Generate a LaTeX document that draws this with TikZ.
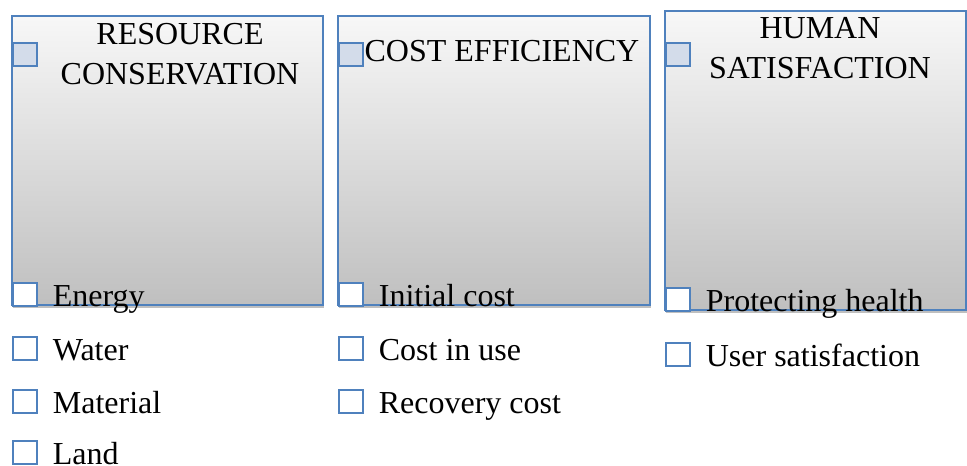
\documentclass[tikz,border=0pt]{standalone}
\usepackage{fontspec}
\setmainfont{Liberation Serif}
\usetikzlibrary{positioning,shadows}

\definecolor{wordblue}{RGB}{79,129,189}
\definecolor{tabfill}{RGB}{211,220,234}

\tikzset{
  panel/.style={draw=wordblue, line width=1.2pt, top color=white!97!black, bottom color=black!25,
    drop shadow={shadow xshift=0.6pt, shadow yshift=-2.2pt, opacity=0.25, fill=black}},
  headtab/.style={draw=wordblue, line width=1.2pt, fill=tabfill, inner sep=0pt,
    minimum width=18pt, minimum height=17.25pt, anchor=north west},
  checkbox/.style={draw=wordblue, line width=1.2pt, fill=white, inner sep=0pt,
    minimum width=18pt, minimum height=17.25pt, anchor=north west},
  heading/.style={font=\fontsize{24}{30}\selectfont, align=center, inner sep=0pt, anchor=north},
  item/.style={font=\fontsize{24}{30}\selectfont, inner sep=0pt}
}

\begin{document}
\begin{tikzpicture}[x=0.75pt,y=-0.75pt]
    \useasboundingbox (0,0) rectangle (967,466);

    % Panels
    \draw[panel] (12,16) rectangle (323,305);
    \draw[panel] (338,16) rectangle (650,305);
    \draw[panel] (665,11) rectangle (966,310);

    % Resource conservation
    \node[headtab] (rcTab) at (12,42) {};
    \node[heading] (rcHead) at (180,23) {RESOURCE\\CONSERVATION};
    \node[checkbox] (rcBoxA) at (12,282) {};
    \node[checkbox] (rcBoxB) at (12,336) {};
    \node[checkbox] (rcBoxC) at (12,389) {};
    \node[checkbox] (rcBoxD) at (12,440) {};
    \node[item, right=11.25pt of rcBoxA.south east, anchor=base west] (energy) {Energy};
    \node[item, right=11.25pt of rcBoxB.south east, anchor=base west] (water) {Water};
    \node[item, right=11.25pt of rcBoxC.south east, anchor=base west] (material) {Material};
    \node[item, right=11.25pt of rcBoxD.south east, anchor=base west] (land) {Land};

    % Cost efficiency
    \node[headtab] (ceTab) at (338,42) {};
    \node[heading] (ceHead) at (502,40) {COST EFFICIENCY};
    \node[checkbox] (ceBoxA) at (338,282) {};
    \node[checkbox] (ceBoxB) at (338,336) {};
    \node[checkbox] (ceBoxC) at (338,389) {};
    \node[item, right=11.25pt of ceBoxA.south east, anchor=base west] (initial) {Initial cost};
    \node[item, right=11.25pt of ceBoxB.south east, anchor=base west] (inuse) {Cost in use};
    \node[item, right=11.25pt of ceBoxC.south east, anchor=base west] (recovery) {Recovery cost};

    % Human satisfaction
    \node[headtab] (hsTab) at (665,42) {};
    \node[heading] (hsHead) at (820,17) {HUMAN\\SATISFACTION};
    \node[checkbox] (hsBoxA) at (665,287) {};
    \node[checkbox] (hsBoxB) at (665,342) {};
    \node[item, right=11.25pt of hsBoxA.south east, anchor=base west] (health) {Protecting health};
    \node[item, right=11.25pt of hsBoxB.south east, anchor=base west] (usersat) {User satisfaction};
\end{tikzpicture}
\end{document}
